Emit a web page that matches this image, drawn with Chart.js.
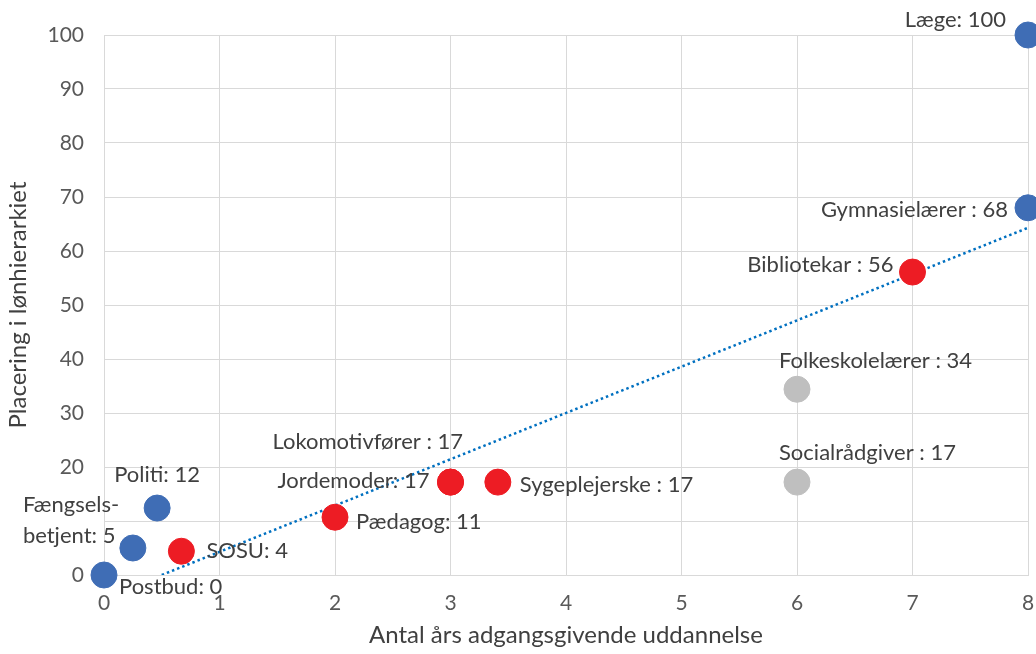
<!DOCTYPE html>
<html>
<head>
<meta charset="utf-8">
<script src="https://cdn.jsdelivr.net/npm/chart.js@4"></script>
<style>
  html, body { margin: 0; padding: 0; background: #fff; }
  #wrap { width: 1036px; height: 654px; }
</style>
</head>
<body>
<div id="wrap"><canvas id="chart" width="1036" height="654"></canvas></div>
<script>
/**
 * DATA
 */
const blueNames = ["Læge", "Gymnasielærer", "Politi", "Fængsels-\nbetjent", "Postbud"];
const blueX = [8, 8, 0.46, 0.25, 0];
const blueY = [100, 68, 12.4, 5, 0];
const blueLabels = ["Læge: 100", "Gymnasielærer : 68", "Politi: 12", "Fængsels-\nbetjent: 5", "Postbud: 0"];

const redNames = ["Bibliotekar", "Lokomotivfører", "Jordemoder", "Sygeplejerske", "Pædagog", "SOSU"];
const redX = [7, 3, 3, 3.41, 2, 0.67];
const redY = [56.1, 17.2, 17.2, 17.2, 10.7, 4.4];
const redLabels = ["Bibliotekar : 56", "Lokomotivfører : 17", "Jordemoder: 17", "Sygeplejerske : 17", "Pædagog: 11", "SOSU: 4"];

const greyNames = ["Folkeskolelærer", "Socialrådgiver"];
const greyX = [6, 6];
const greyY = [34.4, 17.2];
const greyLabels = ["Folkeskolelærer : 34", "Socialrådgiver : 17"];

// trend line end points
const trendX = [0.5, 8];
const trendY = [0, 64.3];

const xTicks = [0, 1, 2, 3, 4, 5, 6, 7, 8];
const yTicks = [0, 10, 20, 30, 40, 50, 60, 70, 80, 90, 100];
// the "10" tick label is covered by the Fængsels-betjent label in the original
const hiddenYTicks = [10];

/**
 * Label placement (align, dx, dy) per point, kept apart from the data
 */
const bluePlace = [["right", -22, -15], ["right", -20, 2], ["left", -43, -33], ["left", -110, -43], ["left", 15, 12]];
const redPlace = [["right", -19, -7], ["left", -178, -40], ["right", -21, -1], ["left", 22, 3], ["left", 21, 5], ["left", 25, 0]];
const greyPlace = [["left", -18, -28], ["left", -18, -29]];

const FONT = "Lato, 'Open Sans', sans-serif";

const toPoints = (xs, ys) => xs.map((x, i) => ({x: x, y: ys[i]}));

const pointSet = (label, xs, ys, color, texts, place) => ({
  type: 'scatter',
  label: label,
  data: toPoints(xs, ys),
  backgroundColor: color,
  borderColor: color,
  pointRadius: 13,
  pointHoverRadius: 13,
  clip: false,
  order: 1,
  texts: texts,
  place: place
});

/**
 * Plugin: text next to each point
 */
const pointLabels = {
  id: 'pointLabels',
  afterDatasetsDraw(chart) {
    const ctx = chart.ctx;
    ctx.save();
    ctx.font = "22px " + FONT;
    ctx.fillStyle = "#404040";
    ctx.textBaseline = "middle";
    chart.data.datasets.forEach((ds, di) => {
      if (!ds.texts) return;
      const meta = chart.getDatasetMeta(di);
      meta.data.forEach((pt, i) => {
        const [align, dx, dy] = ds.place[i];
        ctx.textAlign = align;
        const lines = ds.texts[i].split("\n");
        lines.forEach((line, li) => {
          ctx.fillText(line, pt.x + dx, pt.y + dy + li * 31);
        });
      });
    });
    ctx.restore();
  }
};

const setChart = (id) => {
  return new Chart(document.getElementById(id), {
    data: {
      datasets: [
        pointSet("blue", blueX, blueY, "#3F6DB5", blueLabels, bluePlace),
        pointSet("red", redX, redY, "#ED1C24", redLabels, redPlace),
        pointSet("grey", greyX, greyY, "#BFBFBF", greyLabels, greyPlace),
        {
          type: 'line',
          label: "trend",
          data: toPoints(trendX, trendY),
          borderColor: "#0070C0",
          borderWidth: 2.5,
          borderDash: [2.5, 3],
          pointRadius: 0,
          fill: false,
          order: 2
        }
      ]
    },
    options: {
      responsive: false,
      animation: false,
      layout: { autoPadding: false, padding: { top: 35, right: 8, left: 0, bottom: 0 } },
      plugins: {
        legend: { display: false },
        tooltip: { enabled: false }
      },
      scales: {
        x: {
          type: 'linear',
          min: 0,
          max: 8,
          afterBuildTicks: (scale) => { scale.ticks = xTicks.map(v => ({value: v})); },
          afterFit: (scale) => {
            scale.height = 79;
            scale.paddingRight = 0;
            scale.paddingLeft = 0;
          },
          grid: { color: "#D9D9D9", lineWidth: 1, drawTicks: false },
          border: { color: "#D9D9D9" },
          ticks: { color: "#595959", font: { size: 21, family: FONT }, padding: 16 },
          title: {
            display: true,
            text: "Antal års adgangsgivende uddannelse",
            color: "#404040",
            font: { size: 24, family: FONT },
            padding: { top: 2 }
          }
        },
        y: {
          type: 'linear',
          min: 0,
          max: 100,
          afterBuildTicks: (scale) => { scale.ticks = yTicks.map(v => ({value: v})); },
          afterFit: (scale) => { scale.width = 104; },
          grid: { color: "#D9D9D9", lineWidth: 1, drawTicks: false },
          border: { color: "#D9D9D9" },
          ticks: {
            color: "#595959",
            font: { size: 21, family: FONT },
            padding: 20,
            callback: (v) => hiddenYTicks.includes(v) ? "" : v
          },
          title: {
            display: true,
            text: "Placering i lønhierarkiet",
            color: "#404040",
            font: { size: 24, family: FONT },
            padding: { bottom: 4 }
          }
        }
      }
    },
    plugins: [pointLabels]
  });
};

document.addEventListener("DOMContentLoaded", () => {
  setChart("chart");
});
</script>
</body>
</html>
